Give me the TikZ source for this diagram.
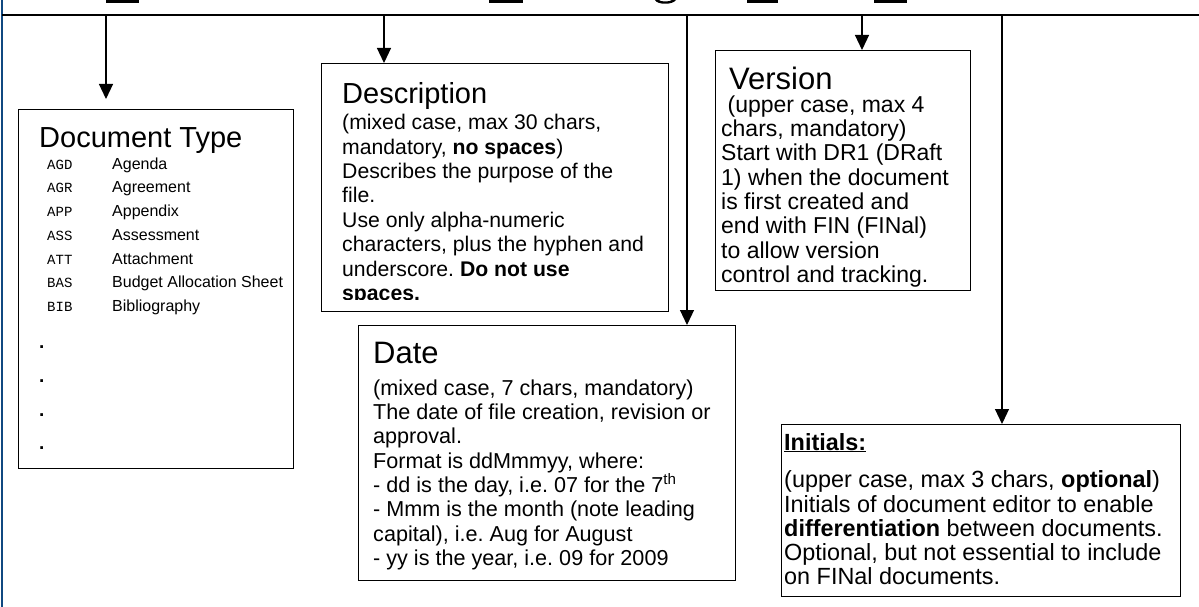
\documentclass[tikz,border=0pt]{standalone}
\usepackage{fontspec}
\setmainfont{Liberation Sans}
\setmonofont{Liberation Mono}
\usetikzlibrary{arrows.meta}
\definecolor{edgeblue}{RGB}{16,72,128}
\frenchspacing
\tikzset{
  infobox/.style={draw,line width=1.4pt,anchor=north west,inner sep=0pt},
  boxtitle/.style={anchor=base west,inner sep=0pt,font=\fontsize{30}{34}\selectfont},
  boxtext/.style={anchor=north west,inner sep=0pt,align=left},
  feed/.style={line width=1.2pt,-{Triangle[width=14pt,length=15pt]}}
}
\begin{document}
\begin{tikzpicture}[x=1pt,y=-1pt]
\useasboundingbox (0,0) rectangle (1199,607);
% frame and bus line
\draw[edgeblue,line width=2.5pt] (2,0) -- (2,607);
\draw[line width=2pt] (2,15) -- (1199,15);
% what is left of the cut off title
\fill (106,0) rectangle (139,3);
\fill (489,0) rectangle (523,3);
\fill (747,0) rectangle (778,3);
\fill (874,0) rectangle (907,3);
\fill (655,0) .. controls (657,5) and (673,5) .. (676,0) -- (672,0) .. controls (670,2) and (660,2) .. (659,0) -- cycle;
% boxes
\node[infobox,minimum width=275pt,minimum height=359pt] (doctype) at (18,109) {};
\node[infobox,minimum width=347pt,minimum height=248pt] (descr) at (321,63) {};
\node[infobox,minimum width=255pt,minimum height=240pt] (version) at (715,50) {};
\node[infobox,minimum width=377pt,minimum height=255pt] (date) at (358,325) {};
\node[infobox,minimum width=399pt,minimum height=172pt] (initials) at (781,424) {};
% taps on the bus
\coordinate (tapdoc) at (106,15);
\coordinate (tapdescr) at (384,15);
\coordinate (tapdate) at (687,15);
\coordinate (tapversion) at (862,15);
\coordinate (tapinitials) at (1002,15);
\draw[feed,shorten >=10pt] (tapdoc) -- (tapdoc |- doctype.north);
\draw[feed] (tapdescr) -- (tapdescr |- descr.north);
\draw[feed] (tapdate) -- (tapdate |- date.north);
\draw[feed] (tapversion) -- (tapversion |- version.north);
\draw[feed] (tapinitials) -- (tapinitials |- initials.north);
% document type
\node[boxtitle,font=\fontsize{29}{34}\selectfont] (doctitle) at (39,147) {Document Type};
\node[boxtext,font=\ttfamily\fontsize{14}{23.7}\selectfont] (codes) at (47,152.5)
  {\strut AGD\\AGR\\APP\\ASS\\ATT\\BAS\\BIB};
\node[boxtext,font=\fontsize{16}{23.7}\selectfont] (names) at (112,152.5)
  {\strut Agenda\\Agreement\\Appendix\\Assessment\\Attachment\\Budget Allocation Sheet\\Bibliography};
\node[boxtext,font=\bfseries\fontsize{19}{33.7}\selectfont] (dots) at (39,325) {\strut.\\.\\.\\.};
% description
\node[boxtitle,font=\fontsize{29}{34}\selectfont] (descrtitle) at (342,104) {Description};
\begin{scope}
\clip (321,63) rectangle (668,299);
\node[boxtext,font=\fontsize{21.2}{24.4}\selectfont] (descrtext) at (342,112.5)
  {\strut(mixed case, max 30 chars,\\mandatory, \textbf{no spaces})\\Describes the purpose of the\\file.\\Use only alpha-numeric\\characters, plus the hyphen and\\underscore. \textbf{Do not use}\\\textbf{spaces.}};
\end{scope}
% version
\node[boxtitle,font=\fontsize{31}{34}\selectfont] (versiontitle) at (729,90) {Version};
\node[boxtext,font=\fontsize{23}{24.3}\selectfont] (versiontext) at (721,95)
  {\strut\ (upper case, max 4\\chars, mandatory)\\Start with DR1 (DRaft\\1) when the document\\is first created and\\end with FIN (FINal)\\to allow version\\control and tracking.};
% date
\node[boxtitle,font=\fontsize{31}{34}\selectfont] (datetitle) at (373,363) {Date};
\node[boxtext,font=\fontsize{21.6}{24.3}\selectfont] (datetext) at (373,378)
  {\strut(mixed case, 7 chars, mandatory)\\The date of file creation, revision or\\approval.\\Format is ddMmmyy, where:\\- dd is the day, i.e. 07 for the 7\textsuperscript{th}\\- Mmm is the month (note leading\\capital), i.e. Aug for August\\- yy is the year, i.e. 09 for 2009};
% initials
\node[boxtitle,font=\fontsize{23.4}{24}\selectfont] (initialstitle) at (784,450) {\underline{\textbf{Initials:}}};
\node[boxtext,font=\fontsize{23.4}{24}\selectfont] (initialstext) at (784,470)
  {\strut(upper case, max 3 chars, \textbf{optional})\\Initials of document editor to enable\\\textbf{differentiation} between documents.\\Optional, but not essential to include\\on FINal documents.};
\end{tikzpicture}
\end{document}
